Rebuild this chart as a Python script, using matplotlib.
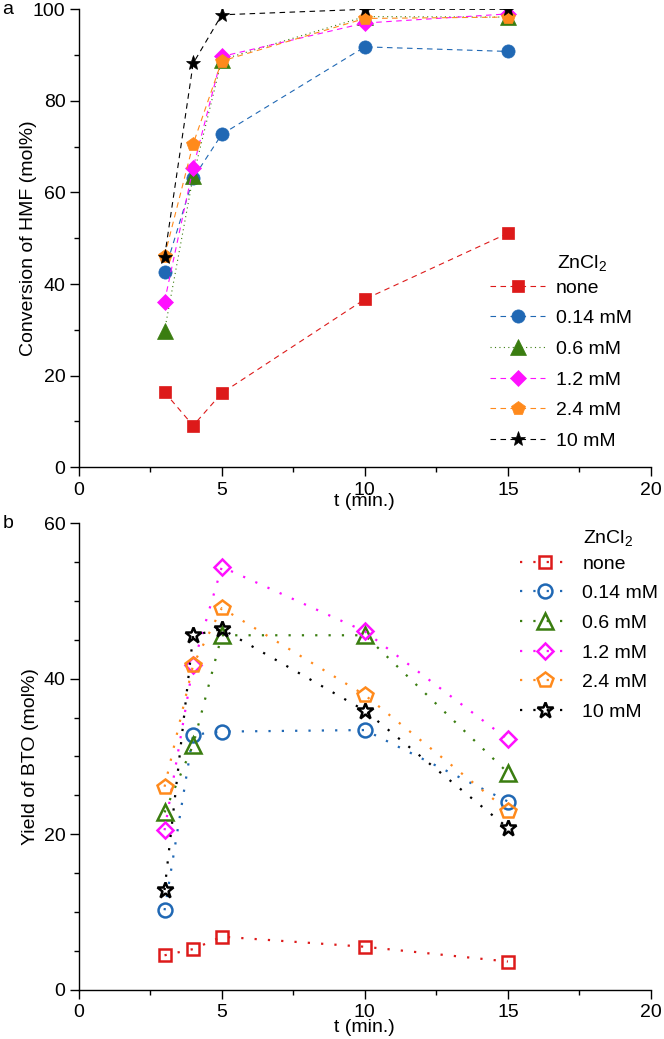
import matplotlib
matplotlib.use("Agg")
import matplotlib.pyplot as plt

plt.rcParams['font.family'] = ['Liberation Sans', 'DejaVu Sans']
plt.rcParams['mathtext.fontset'] = 'custom'
plt.rcParams['mathtext.rm'] = 'Liberation Sans'
plt.rcParams['mathtext.it'] = 'Liberation Sans:italic'
plt.rcParams['mathtext.default'] = 'regular'

# ---------------- data ----------------
t = [3, 4, 5, 10, 15]
labels = ["none", "0.14 mM", "0.6 mM", "1.2 mM", "2.4 mM", "10 mM"]

conv_none = [16.4, 9.1, 16.2, 36.7, 51.1]
conv_014 = [42.7, 63.1, 72.7, 91.8, 90.8]
conv_06 = [29.8, 63.5, 89.0, 98.4, 98.3]
conv_12 = [36.2, 65.4, 89.7, 97.0, 99.0]
conv_24 = [46.1, 70.6, 88.7, 98.0, 98.3]
conv_10 = [45.9, 88.2, 98.8, 100.0, 100.0]

yield_none = [4.4, 5.2, 6.8, 5.5, 3.6]
yield_014 = [10.2, 32.8, 33.2, 33.4, 24.2]
yield_06 = [22.8, 31.5, 45.6, 45.6, 27.9]
yield_12 = [20.5, 41.8, 54.4, 46.1, 32.2]
yield_24 = [26.1, 41.8, 49.1, 37.9, 23.0]
yield_10 = [12.8, 45.6, 46.4, 35.9, 20.8]

colors = ['#dd1a1a', '#2068b4', '#3a7d10', '#ff10ff', '#ff8a1c', '#000000']
markers = ['s', 'o', '^', 'D', 'p', '*']
msize_a = [9, 9.5, 12, 8.5, 10.5, 11]
msize_b = [8, 10, 11, 8.5, 11.5, 12]

conv = [conv_none, conv_014, conv_06, conv_12, conv_24, conv_10]
yld = [yield_none, yield_014, yield_06, yield_12, yield_24, yield_10]
styles_a = [(0, (5, 4)), (0, (5, 4)), (0, (1, 3)), (0, (5, 4)), (0, (5, 4)), (0, (5, 4))]

W, H = 664, 1039
fig = plt.figure(figsize=(W / 100, H / 100), dpi=100)

def px_axes(x0, y_top, x1, y_bot):
    return fig.add_axes([x0 / W, 1 - y_bot / H, (x1 - x0) / W, (y_bot - y_top) / H])

axa = px_axes(78.7, 9.3, 651, 467.3)
axb = px_axes(78.7, 523.4, 651, 989.5)

for i in range(6):
    axa.plot(t, conv[i], linestyle=styles_a[i], color=colors[i], lw=0.8,
             marker=markers[i], markersize=msize_a[i], markerfacecolor=colors[i],
             markeredgecolor=colors[i], markeredgewidth=0.5, label=labels[i])
    axb.plot(t, yld[i], linestyle=(0, (1, 5)), color=colors[i], lw=1.6,
             marker=markers[i], markersize=msize_b[i], markerfacecolor='none',
             markeredgecolor=colors[i], markeredgewidth=1.8, label=labels[i])

for ax, ylim, major, minor in [(axa, 100, 20, 10), (axb, 60, 20, 5)]:
    ax.set_xlim(0, 20)
    ax.set_ylim(0, ylim)
    ax.set_xticks([0, 5, 10, 15, 20])
    ax.set_xticks([2.5, 7.5, 12.5, 17.5], minor=True)
    ax.set_yticks(range(0, ylim + 1, major))
    ax.set_yticks(range(0, ylim + 1, minor), minor=True)
    for s in ['top', 'right']:
        ax.spines[s].set_visible(False)
    for s in ['left', 'bottom']:
        ax.spines[s].set_linewidth(1.0)
    ax.tick_params(which='major', direction='out', length=6.5, width=1.0, labelsize=14, pad=4)
    ax.tick_params(which='minor', direction='out', length=3.5, width=1.0)
    ax.tick_params(axis='y', which='major', pad=3)
    ax.set_xlabel("t (min.)", fontsize=14)

axa.xaxis.set_label_coords(0.5, -0.056)
axb.xaxis.set_label_coords(0.5, -0.064)
axa.set_ylabel("Conversion of HMF (mol%)", fontsize=14)
axb.set_ylabel("Yield of BTO (mol%)", fontsize=14)
axa.yaxis.set_label_coords((37 - 78.7) / (651 - 78.7), 0.5)
axb.yaxis.set_label_coords((39 - 78.7) / (651 - 78.7), 0.5)

# legends
lga = axa.legend(loc='upper left', bbox_to_anchor=(490 / W, 1 - 279 / H),
                 bbox_transform=fig.transFigure, frameon=False, fontsize=14,
                 borderpad=0, borderaxespad=0, handlelength=2.85,
                 handletextpad=0.55, labelspacing=0.67)
fig.text(557 / W, 1 - 263 / H, "ZnCl$_2$", fontsize=14, va='center', ha='left')

lgb = axb.legend(loc='upper left', bbox_to_anchor=(520 / W, 1 - 555 / H),
                 bbox_transform=fig.transFigure, frameon=False, fontsize=14,
                 borderpad=0, borderaxespad=0, handlelength=2.6,
                 handletextpad=0.6, labelspacing=0.62)
fig.text(583 / W, 1 - 538 / H, "ZnCl$_2$", fontsize=14, va='center', ha='left')

fig.text(2 / W, 1 - 10 / H, "a", fontsize=14, va='center', ha='left')
fig.text(3 / W, 1 - 524 / H, "b", fontsize=14, va='center', ha='left')

fig.savefig("out.png", dpi=100)
